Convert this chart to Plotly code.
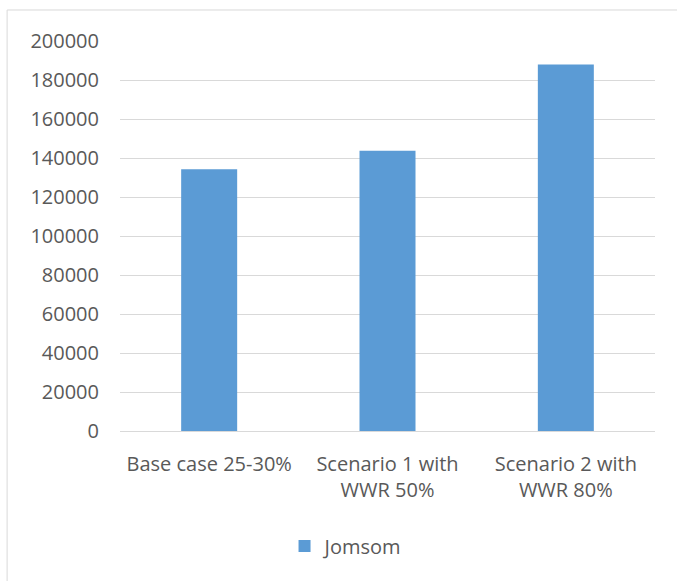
import plotly.graph_objects as go

# Scenario labels and annual values for Jomsom
categories = ["Base case 25-30%", "Scenario 1 with<br>WWR 50%", "Scenario 2 with<br>WWR 80%"]
jomsom = [134200, 143700, 188000]
y_ticks = [0, 20000, 40000, 60000, 80000, 100000, 120000, 140000, 160000, 180000, 200000]

BAR = "#5B9BD5"
GRID = "#D9D9D9"
TEXT = "#595959"
FONT = "Open Sans"

fig = go.Figure(
    go.Bar(
        x=categories,
        y=jomsom,
        name="Jomsom",
        marker=dict(color=BAR, line=dict(width=0)),
        showlegend=True,
    )
)

fig.update_layout(
    width=677,
    height=581,
    margin=dict(l=120, r=22, t=41, b=150),
    paper_bgcolor="white",
    plot_bgcolor="white",
    bargap=0.686,
    font=dict(family=FONT, size=20, color=TEXT),
    showlegend=True,
    legend=dict(
        orientation="h",
        x=0.4225,
        xanchor="center",
        y=-0.295,
        yanchor="middle",
        font=dict(family=FONT, size=20, color=TEXT),
        itemwidth=30,
        bgcolor="rgba(0,0,0,0)",
    ),
    shapes=[
        # outer chart frame
        dict(
            type="rect",
            xref="paper",
            yref="paper",
            x0=-0.211,
            x1=1.2,
            y0=-0.5,
            y1=1.0795,
            line=dict(color=GRID, width=1),
            fillcolor="rgba(0,0,0,0)",
            layer="below",
        )
    ],
)

fig.update_xaxes(
    showgrid=False,
    showline=True,
    linecolor=GRID,
    linewidth=1,
    ticks="",
    ticklabelstandoff=15,
    tickfont=dict(family=FONT, size=20, color=TEXT),
    fixedrange=True,
)

fig.update_yaxes(
    range=[0, 200000],
    tickvals=y_ticks,
    ticktext=[str(v) for v in y_ticks],
    showgrid=True,
    gridcolor=GRID,
    gridwidth=1,
    zeroline=False,
    showline=False,
    ticks="",
    ticklabelstandoff=20,
    tickfont=dict(family=FONT, size=20, color=TEXT),
    fixedrange=True,
)

fig.write_html("out.html")
